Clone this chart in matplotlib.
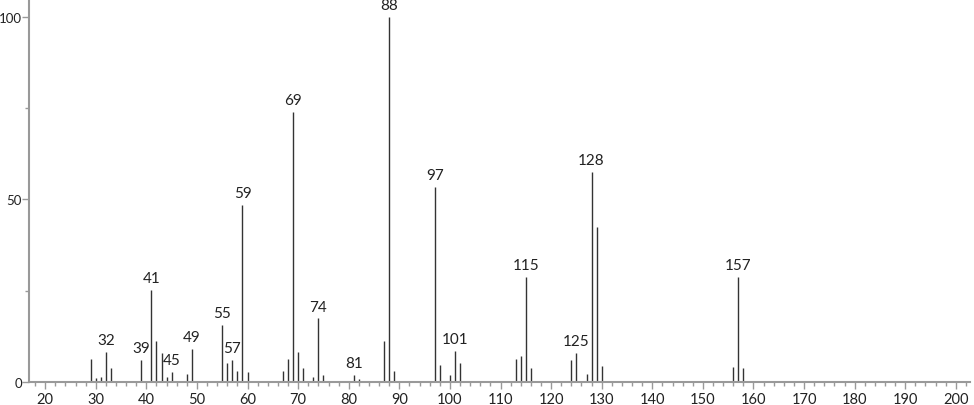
import numpy as np
import matplotlib.pyplot as plt
from matplotlib.ticker import MultipleLocator

# m/z and relative intensity
mz = [29, 30, 31, 32, 33, 39, 41, 42, 43, 44, 45, 48, 49, 55, 56, 57, 58, 59, 60,
      67, 68, 69, 70, 71, 73, 74, 75, 81, 82, 87, 88, 89, 97, 98, 100, 101, 102,
      113, 114, 115, 116, 124, 125, 127, 128, 129, 130, 156, 157, 158]
intensity = [6.3, 1.0, 1.5, 8.2, 3.8, 6.0, 25.2, 11.3, 7.9, 1.3, 2.7, 2.2, 9.0,
             15.6, 5.2, 6.0, 3.1, 48.5, 2.8, 3.1, 6.2, 74.0, 8.2, 3.8, 1.3, 17.4,
             1.9, 2.0, 0.8, 11.1, 100.0, 2.9, 53.4, 4.7, 1.9, 8.5, 5.2, 6.3, 7.0,
             28.7, 3.8, 6.0, 7.9, 2.1, 57.5, 42.5, 4.5, 4.2, 28.7, 3.9]
labeled = [32, 39, 41, 45, 49, 55, 57, 59, 69, 74, 81, 88, 97, 101, 115, 125, 128, 157]

plt.rcParams['font.family'] = ['Lato', 'DejaVu Sans']

fig = plt.figure(figsize=(9.74, 4.06), dpi=100)
ax = fig.add_axes([29 / 974, 23 / 406, 941 / 974, 383 / 406])

ax.vlines(mz, 0, intensity, color='#333333', linewidth=1.0)
for m, v in zip(mz, intensity):
    if m in labeled:
        ax.text(m, v + 1.3, str(m), ha='center', va='bottom', fontsize=11, color='#222222')

ax.set_xlim(16.8, 202.8)
ax.set_ylim(0, 104.9)
ax.set_xticks(np.arange(20, 201, 10))
ax.xaxis.set_minor_locator(MultipleLocator(2))
ax.set_yticks([0, 50, 100])
ax.yaxis.set_minor_locator(MultipleLocator(25))

for side in ['top', 'right']:
    ax.spines[side].set_visible(False)
for side in ['left', 'bottom']:
    ax.spines[side].set_color('#999999')
    ax.spines[side].set_linewidth(1.5)

ax.tick_params(which='both', colors='#999999', labelcolor='#222222')
ax.tick_params(axis='x', which='major', length=5, width=1, pad=2, labelsize=10.5)
ax.tick_params(axis='y', which='major', length=5, width=1, pad=0, labelsize=9.5)
ax.tick_params(which='minor', length=3, width=1)

fig.savefig('out.png', dpi=100)
